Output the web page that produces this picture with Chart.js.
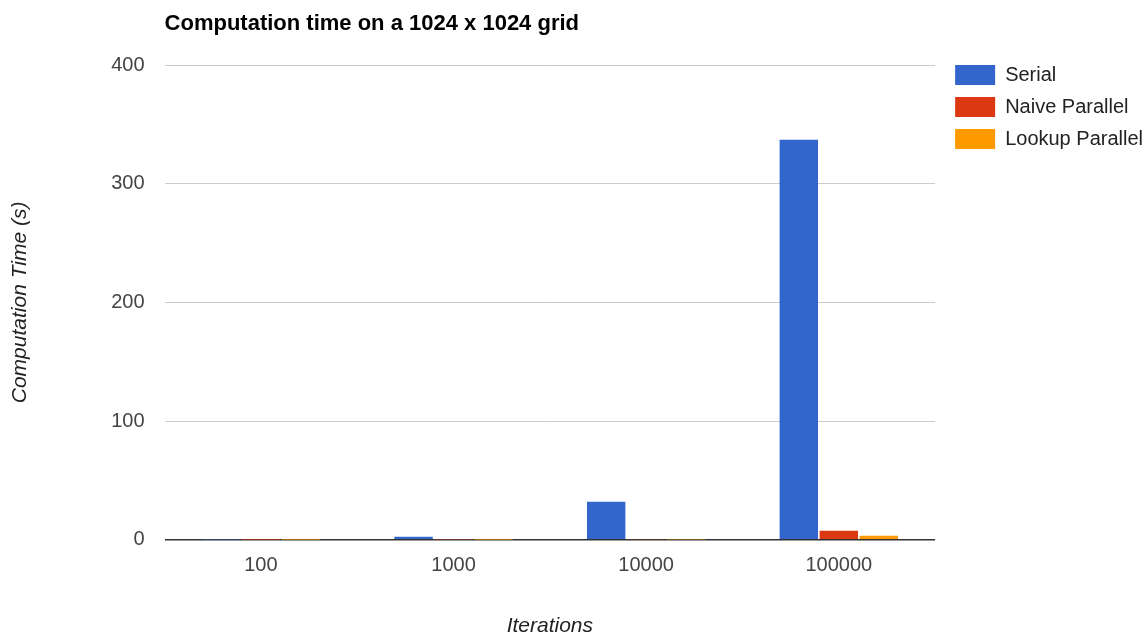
<!DOCTYPE html>
<html>
<head>
<meta charset="utf-8">
<script src="https://cdn.jsdelivr.net/npm/chart.js@4"></script>
<style>
  html, body { margin: 0; padding: 0; background: #fff; }
  #wrap { width: 1148px; height: 641px; position: relative; }
</style>
</head>
<body>
<div id="wrap"><canvas id="timeChart"></canvas></div>
<script>
const categories = ['100', '1000', '10000', '100000'];
const serialTimes = [0.3, 2.6, 32, 337];
const naiveTimes = [0.1, 0.2, 0.5, 7.6];
const lookupTimes = [0.05, 0.1, 0.3, 3.4];
const yTicks = [0, 100, 200, 300, 400];

const FONT = '"Liberation Sans", Arial, sans-serif';

// title drawn flush with the left edge of the plot area
const leftTitle = {
  id: 'leftTitle',
  afterDraw(chart) {
    const c = chart.ctx;
    c.save();
    c.font = 'bold 22px ' + FONT;
    c.fillStyle = '#000';
    c.textBaseline = 'middle';
    c.textAlign = 'left';
    c.fillText('Computation time on a 1024 x 1024 grid', chart.chartArea.left, 24);
    c.restore();
  }
};

// move the legend so it starts level with the top gridline
const legendNudge = {
  id: 'legendNudge',
  afterLayout(chart) {
    const lg = chart.legend;
    if (!lg) return;
    lg.top -= 12;
    lg.bottom -= 12;
    lg.left += 8;
    lg.right += 8;
  }
};

const el = document.getElementById('timeChart');
new Chart(el.getContext('2d'), {
  type: 'bar',
  data: {
    labels: categories,
    datasets: [
      { label: 'Serial', data: serialTimes, backgroundColor: '#3366cc' },
      { label: 'Naive Parallel', data: naiveTimes, backgroundColor: '#dc3912' },
      { label: 'Lookup Parallel', data: lookupTimes, backgroundColor: '#ff9900' }
    ]
  },
  options: {
    responsive: true,
    maintainAspectRatio: false,
    animation: false,
    datasets: {
      bar: { categoryPercentage: 0.623, barPercentage: 0.96 }
    },
    layout: { padding: { top: 65, left: 8, right: 3, bottom: 0 } },
    plugins: {
      legend: {
        position: 'right',
        align: 'start',
        labels: {
          boxWidth: 40,
          boxHeight: 20,
          padding: 12,
          color: '#222',
          font: { family: FONT, size: 20 }
        }
      },
      tooltip: { enabled: false }
    },
    scales: {
      x: {
        grid: { display: false, drawTicks: false },
        border: { display: false },
        ticks: { color: '#444', padding: 14, font: { family: FONT, size: 20 } },
        title: {
          display: true,
          text: 'Iterations',
          color: '#222',
          padding: { top: 22, bottom: 2 },
          font: { family: FONT, size: 21, style: 'italic' }
        }
      },
      y: {
        min: 0,
        max: 400,
        afterBuildTicks(axis) { axis.ticks = yTicks.map(v => ({ value: v })); },
        grid: {
          drawTicks: false,
          color: ctx => ctx.tick && ctx.tick.value === 0 ? '#333' : '#ccc',
          lineWidth: ctx => ctx.tick && ctx.tick.value === 0 ? 1.5 : 1
        },
        border: { display: false },
        ticks: { color: '#444', padding: 20, font: { family: FONT, size: 20 } },
        title: {
          display: true,
          text: 'Computation Time (s)',
          color: '#222',
          padding: { top: 0, bottom: 58 },
          font: { family: FONT, size: 21, style: 'italic' }
        }
      }
    }
  },
  plugins: [leftTitle, legendNudge]
});
</script>
</body>
</html>
